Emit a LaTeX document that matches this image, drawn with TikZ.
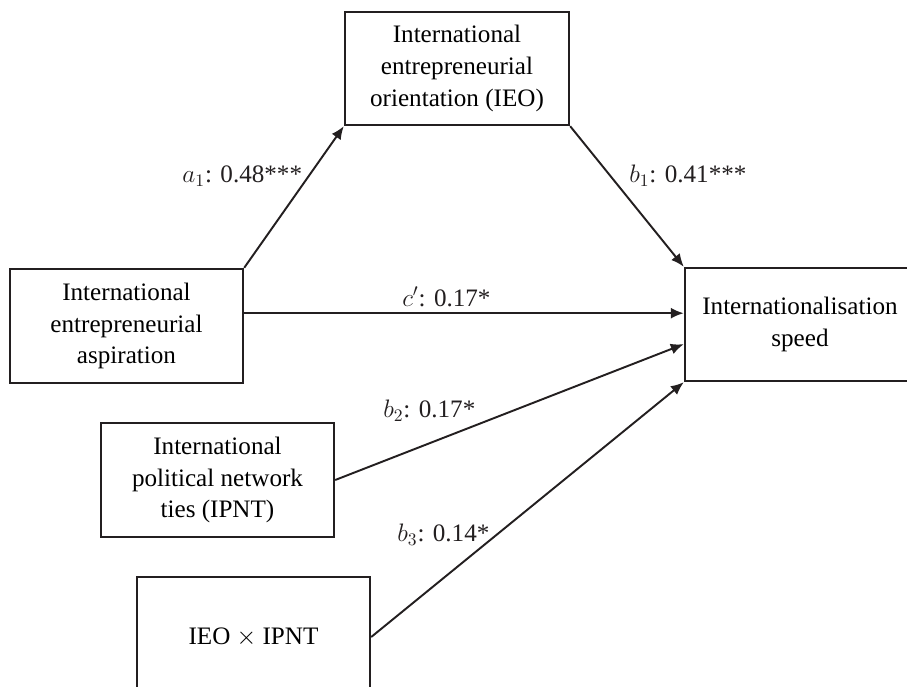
\documentclass[tikz,border=0pt]{standalone}
\usepackage{fontspec}
\setmainfont{Liberation Serif}
\usetikzlibrary{arrows.meta,calc}
\definecolor{lineDark}{RGB}{35,31,32}

\begin{document}
\begin{tikzpicture}[x=0.02cm, y=-0.02cm,
    font=\fontsize{14.3}{18}\selectfont,
    box/.style={draw=lineDark, line width=1.4pt, align=center, inner sep=0pt},
    link/.style={draw=lineDark, line width=1.1pt, -{Latex[length=2.6mm,width=2.2mm]}},
    coef/.style={text=lineDark}]
        \useasboundingbox (0,0) rectangle (907,687);
        \clip (0,0) rectangle (907,687);
        % constructs
        \node[box, minimum width=4.48cm, minimum height=2.26cm] (ieo) at (457,68.5)
            {International\\entrepreneurial\\orientation (IEO)};
        \node[box, minimum width=4.66cm, minimum height=2.28cm] (iea) at (126.5,326)
            {International\\entrepreneurial\\aspiration};
        \node[box, minimum width=4.6cm, minimum height=2.26cm] (speed) at (800,324.5)
            {Internationalisation\\speed};
        \node[box, minimum width=4.66cm, minimum height=2.28cm] (ipnt) at (217.5,480)
            {International\\political network\\ties (IPNT)};
        \node[box, minimum width=4.66cm, minimum height=2.4cm] (inter) at (253.5,637)
            {IEO $\times$ IPNT};
        % helper points on the box sides
        \coordinate (cStart) at ($(iea.north east)!0.39!(iea.south east)$);
        \coordinate (bTwoEnd) at ($(speed.north west)!0.67!(speed.south west)$);
        % paths
        \draw[link] (iea.north east) -- node[coef, pos=0.65, left] (lblA) {$a_1$: 0.48***} (ieo.south west);
        \draw[link] (ieo.south east) -- node[coef, pos=0.35, right=0.25cm] (lblB) {$b_1$: 0.41***} (speed.north west);
        \draw[link] (cStart) -- node[coef, pos=0.46, above] (lblC) {$c'$: 0.17*} (cStart -| speed.west);
        \draw[link] (ipnt.east) -- node[coef, pos=0.27, above=0.3cm] (lblBTwo) {$b_2$: 0.17*} (bTwoEnd);
        \draw[link] (inter.east) -- node[coef, pos=0.4, left] (lblBThree) {$b_3$: 0.14*} (speed.south west);
      \end{tikzpicture}
\end{document}
